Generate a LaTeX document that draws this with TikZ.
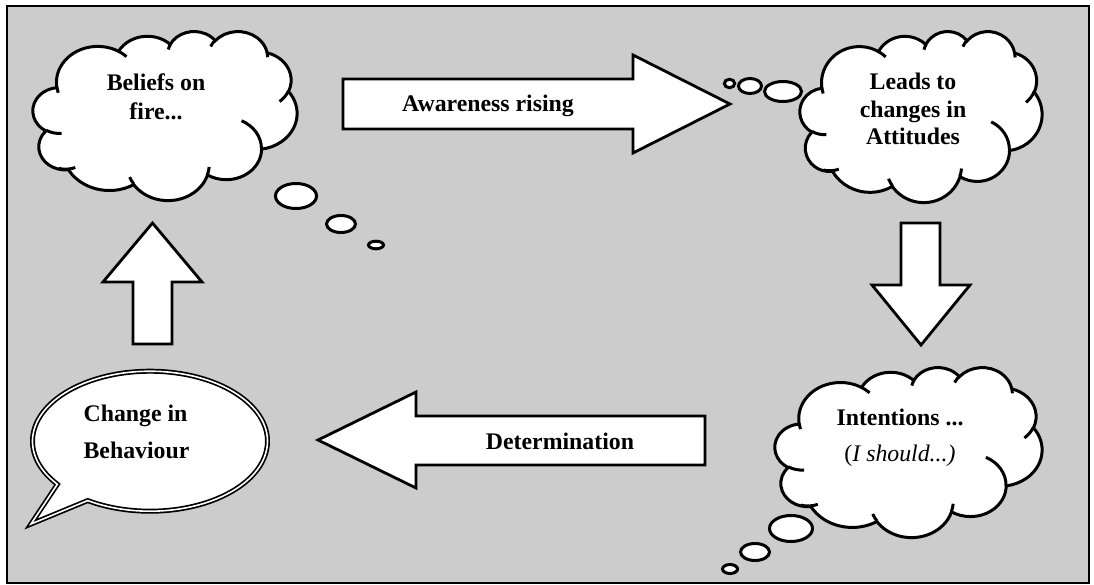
\documentclass[tikz,border=0pt]{standalone}
\usepackage{fontspec}
\setmainfont{Liberation Serif}
\definecolor{graybg}{HTML}{CCCCCC}
% arcs of the Office "cloud" preset: geometric angles -> parametric angles
\newcommand\defarc[5]{%
  \pgfmathsetmacro\myta{atan2((#2)*sin(#4),(#3)*cos(#4))}%
  \pgfmathsetmacro\mytb{atan2((#2)*sin((#4)+(#5)),(#3)*cos((#4)+(#5)))}%
  \pgfmathsetmacro\mytd{mod((\mytb)-(\myta)+720,360)}%
  \expandafter\xdef\csname #1\endcsname{arc[start angle=\myta, delta angle=\mytd, x radius=#2, y radius=#3]}%
}
\defarc{CLa}{6.753}{9.190}{-190.4875}{123.7805}
\defarc{CLb}{5.333}{7.267}{-144.1024}{89.9452}
\defarc{CLc}{4.365}{5.945}{-145.8079}{99.7230}
\defarc{CLd}{4.857}{6.595}{-130.9861}{117.2417}
\defarc{CLe}{5.333}{7.273}{-78.7089}{109.0269}
\defarc{CLf}{6.775}{9.220}{-46.2673}{130.2690}
\defarc{CLg}{5.785}{7.867}{0.6250}{114.0333}
\defarc{CLh}{6.752}{9.215}{22.4516}{115.1726}
\defarc{CLi}{7.720}{10.543}{66.2426}{75.7110}
\defarc{CLj}{4.360}{5.918}{-274.9421}{146.7356}
\defarc{CLk}{4.345}{5.945}{-246.8285}{152.5189}
\defarc{CUa}{4.345}{5.945}{86.7420}{26.4295}
\defarc{CUb}{4.360}{5.918}{73.6105}{27.6593}
\defarc{CUc}{6.752}{9.215}{137.6242}{14.0937}
\defarc{CUd}{6.752}{9.215}{6.4533}{15.9984}
\defarc{CUe}{5.785}{7.867}{-70.2924}{70.9174}
\defarc{CUf}{5.333}{7.273}{30.3180}{27.7515}
\defarc{CUg}{4.857}{6.595}{-13.7443}{14.8589}
\defarc{CUh}{4.857}{6.595}{-149.1815}{18.1954}
\defarc{CUi}{4.365}{5.945}{-163.4943}{17.6864}
\defarc{CUj}{6.753}{9.190}{-66.7070}{12.3194}
\defarc{CUk}{6.753}{9.190}{157.6544}{11.8582}
\newcommand\cloudshape{(3.900,14.370) \CLa \CLb \CLc \CLd \CLe \CLf \CLg \CLh \CLi \CLj \CLk -- cycle}
\newcommand\curlshape{(4.693,26.177) \CUa (6.928,34.899) \CUb (16.478,39.090) \CUc (28.827,34.751) \CUd (34.129,22.954) \CUe (41.798,15.354) \CUf (38.324,5.426) \CUg (29.078,3.952) \CUh (22.141,4.720) \CUi (14.000,5.192) \CUj (4.127,15.789) \CUk}
\newcommand\drawcloud[4]{%
  \pgfmathsetmacro\cldw{#3/43.2}%
  \pgfmathsetmacro\cldh{#4/43.2}%
  \begin{scope}[shift={(#1,#2)}, x=\cldw pt, y=-\cldh pt]
    \path[cloudline] \cloudshape;
    \path[curlline] \curlshape;
  \end{scope}}
\tikzset{
  cloudline/.style={draw=black, line width=3pt, fill=white},
  curlline/.style={draw=black, line width=3pt},
  bubble/.style={draw=black, line width=3pt, fill=white},
  blockarrow/.style={draw=black, line width=2.8pt, fill=white, line join=miter},
  speech/.style={draw=black, line width=1.7pt, double=white, double distance=1.6pt, line join=miter},
  lbl/.style={font=\fontsize{23.8}{29}\selectfont\bfseries},
}
\begin{document}
\begin{tikzpicture}[x=1pt, y=-1pt]
\useasboundingbox (0,0) rectangle (1094,585);
\fill[white] (0,0) rectangle (1094,585);
\draw[line width=2.2pt, fill=graybg] (7,6) rectangle (1089,583);

% clouds
\drawcloud{33}{31}{264}{169}
\drawcloud{800}{31}{242}{171}
\drawcloud{775}{367}{267}{170}

% thought bubbles
\draw[bubble] (296,196) ellipse [x radius=20.5, y radius=12.5];
\draw[bubble] (341,224) ellipse [x radius=14.5, y radius=8.5];
\draw[bubble] (376,245) ellipse [x radius=7.5, y radius=3.8];
\draw[bubble] (783,91.5) ellipse [x radius=18.5, y radius=10];
\draw[bubble] (750,86) ellipse [x radius=11.5, y radius=7.5];
\draw[bubble] (729.5,83.5) ellipse [x radius=5.2, y radius=4.2];
\draw[bubble] (791,528.5) ellipse [x radius=21.5, y radius=13];
\draw[bubble] (755,552) ellipse [x radius=14.5, y radius=8.5];
\draw[bubble] (730,569) ellipse [x radius=7.5, y radius=4.5];

% speech bubble
\draw[speech, fill=white] (57.4,484.3) arc[start angle=142, end angle=482, x radius=117.5, y radius=70] -- (31,524) -- cycle;

% block arrows
\draw[blockarrow] (343,79) -- (633,79) -- (633,55) -- (730,104) -- (633,153) -- (633,129) -- (343,129) -- cycle;
\draw[blockarrow] (901,223) -- (940,223) -- (940,285) -- (970,285) -- (921,345) -- (872,285) -- (901,285) -- cycle;
\draw[blockarrow] (705,416) -- (416,416) -- (416,392) -- (318,440) -- (416,488) -- (416,465) -- (705,465) -- cycle;
\draw[blockarrow] (133,344) -- (133,282) -- (103,282) -- (152.5,223) -- (202,282) -- (172,282) -- (172,344) -- cycle;

% texts
\node[lbl, align=center] (beliefs) at (156,96.3) {Beliefs on\\fire...};
\node[lbl, align=center, font=\fontsize{23.8}{27.5}\selectfont\bfseries] (leads) at (913,109.3) {Leads to\\changes in\\Attitudes};
\node[lbl, align=center, font=\fontsize{23.8}{36}\selectfont\bfseries] (intent) at (900,437.5) {Intentions ...\\{\mdseries(\itshape I should...)}};
\node[lbl, align=left, font=\fontsize{23.8}{37}\selectfont\bfseries] (behav) at (136.5,432) {Change in\\Behaviour};
\node[lbl, anchor=base] (aware) at (488,112) {Awareness rising};
\node[lbl, anchor=base] (determ) at (560,449) {Determination};
\end{tikzpicture}
\end{document}
